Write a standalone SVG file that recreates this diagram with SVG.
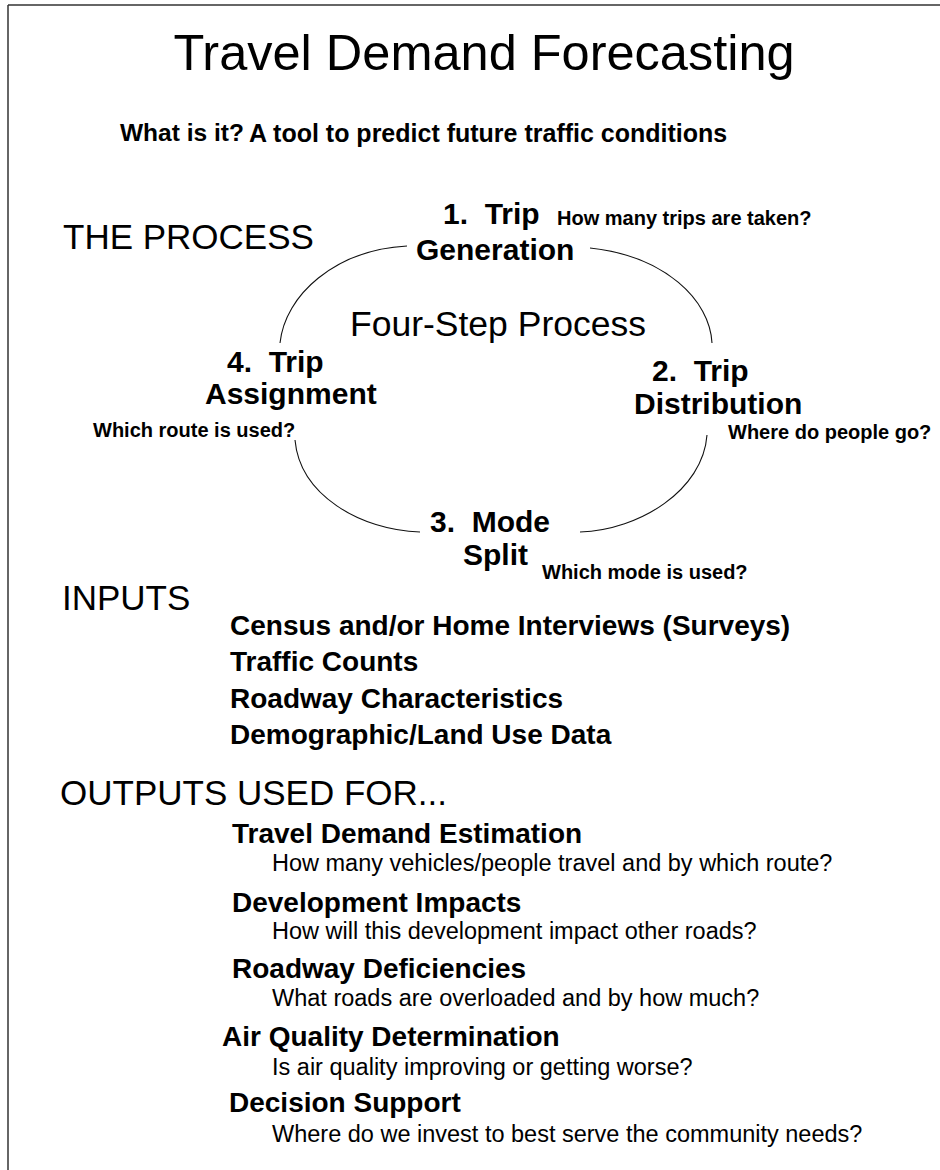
<svg xmlns="http://www.w3.org/2000/svg" width="940" height="1170" viewBox="0 0 940 1170">
<style>
text{font-family:"Liberation Sans",Arial,sans-serif;fill:#000}
.title{font-size:50.5px}
.head{font-size:35px}
.step{font-size:30px;font-weight:bold}
.q{font-size:20px;font-weight:bold}
.item{font-size:28px;font-weight:bold}
.sub{font-size:23.5px}
.arc{fill:none;stroke:#111;stroke-width:1.1}
.frame{stroke:#333;stroke-width:1.5;fill:none}
</style>
<rect width="940" height="1170" fill="#fff"/>
<g id="frame">
<line class="frame" x1="8" y1="5" x2="940" y2="5"/>
<line class="frame" x1="8" y1="5" x2="8" y2="1170"/>
</g>
<g id="title">
<text class="title" x="484" y="70" text-anchor="middle">Travel Demand Forecasting</text>
</g>
<g id="what">
<text x="120" y="141" style="font-size:24.5px;font-weight:bold">What is it?</text>
<text x="249" y="142" style="font-size:25px;font-weight:bold">A tool to predict future traffic conditions</text>
</g>
<g id="process-head"><text class="head" x="63" y="249">THE PROCESS</text></g>
<g id="connectors">
<path class="arc" d="M407,246 C335,250 285,295 280,343"/>
<path class="arc" d="M590,248 C665,256 710,300 712,343"/>
<path class="arc" d="M707,435 C703,490 640,530 580,532"/>
<path class="arc" d="M295,440 C300,495 360,530 420,532"/>
</g>
<g id="center"><text x="350" y="336" style="font-size:35.5px">Four-Step Process</text></g>
<g id="step1">
<text class="step" x="443" y="224" xml:space="preserve">1.  Trip</text>
<text class="step" x="416" y="260">Generation</text>
<text class="q" x="557" y="225">How many trips are taken?</text>
</g>
<g id="step2">
<text class="step" x="652" y="381" xml:space="preserve">2.  Trip</text>
<text class="step" x="634" y="414">Distribution</text>
<text class="q" x="728" y="439">Where do people go?</text>
</g>
<g id="step3">
<text class="step" x="430" y="532" xml:space="preserve">3.  Mode</text>
<text class="step" x="463" y="565">Split</text>
<text class="q" x="542" y="579">Which mode is used?</text>
</g>
<g id="step4">
<text class="step" x="227" y="372" xml:space="preserve">4.  Trip</text>
<text class="step" x="205" y="404">Assignment</text>
<text class="q" x="93" y="437">Which route is used?</text>
</g>
<g id="inputs">
<text class="head" x="62" y="610">INPUTS</text>
<text class="item" x="230" y="635">Census and/or Home Interviews (Surveys)</text>
<text class="item" x="230" y="671">Traffic Counts</text>
<text class="item" x="230" y="708">Roadway Characteristics</text>
<text class="item" x="230" y="744">Demographic/Land Use Data</text>
</g>
<g id="outputs">
<text class="head" x="60" y="805">OUTPUTS USED FOR...</text>
<text class="item" x="232" y="843">Travel Demand Estimation</text>
<text class="sub" x="272" y="871">How many vehicles/people travel and by which route?</text>
<text class="item" x="232" y="912">Development Impacts</text>
<text class="sub" x="272" y="939">How will this development impact other roads?</text>
<text class="item" x="232" y="978">Roadway Deficiencies</text>
<text class="sub" x="272" y="1006">What roads are overloaded and by how much?</text>
<text class="item" x="222" y="1046">Air Quality Determination</text>
<text class="sub" x="272" y="1075">Is air quality improving or getting worse?</text>
<text class="item" x="229" y="1112">Decision Support</text>
<text class="sub" x="272" y="1142">Where do we invest to best serve the community needs?</text>
</g>
</svg>
